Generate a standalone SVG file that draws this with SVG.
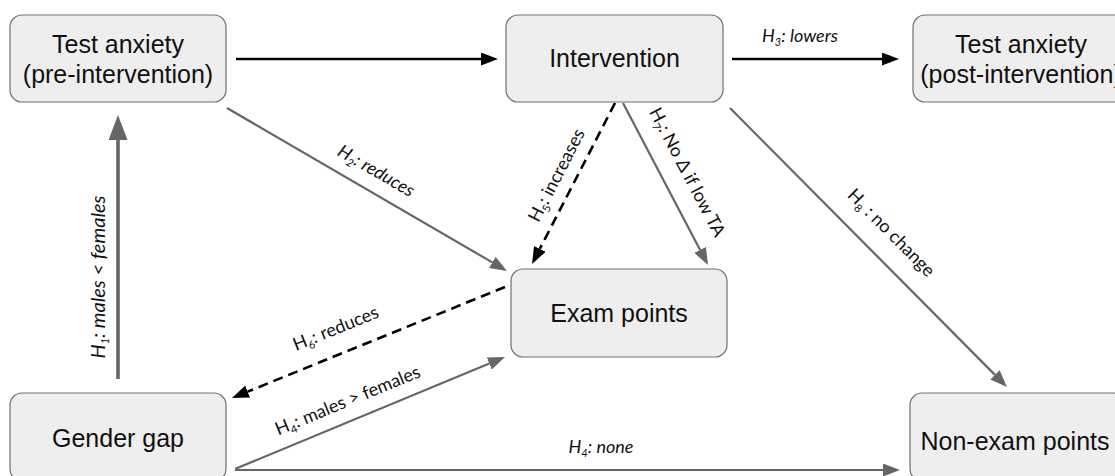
<svg xmlns="http://www.w3.org/2000/svg" width="1115" height="476" viewBox="0 0 1115 476">
  <style>
    .box { fill: #eeeeee; stroke: #707070; stroke-width: 1.2; }
    .nt { font-family: "Liberation Sans", Arial, sans-serif; font-size: 25px; fill: #111; text-anchor: middle; }
    .lb { font-family: Lato, "Open Sans", sans-serif; font-size: 18px; fill: #111; text-anchor: middle; }
    .it { font-style: italic; }
    .big { font-size: 20px; }
    .sub { font-size: 11px; }
    .blk { stroke: #000; stroke-width: 2.6; fill: none; }
    .gry { stroke: #666; stroke-width: 2.2; fill: none; }
    .dash { stroke: #000; stroke-width: 2.6; fill: none; stroke-dasharray: 10 6; }
  </style>
  <defs>
    <marker id="ahb" markerUnits="userSpaceOnUse" markerWidth="17" markerHeight="13" refX="0" refY="6.5" orient="auto">
      <path d="M0,0 L17,6.5 L0,13 z" fill="#000"/>
    </marker>
    <marker id="ahg" markerUnits="userSpaceOnUse" markerWidth="17" markerHeight="13" refX="0" refY="6.5" orient="auto">
      <path d="M0,0 L17,6.5 L0,13 z" fill="#666"/>
    </marker>
    <marker id="ahgb" markerUnits="userSpaceOnUse" markerWidth="25" markerHeight="19" refX="0" refY="9.5" orient="auto">
      <path d="M0,0 L25,9.5 L0,19 z" fill="#666"/>
    </marker>
  </defs>

  <g id="connectors">
    <!-- pre -> intervention -->
    <line class="blk" x1="236" y1="59" x2="481" y2="59" marker-end="url(#ahb)"/>
    <!-- H3 intervention -> post -->
    <line class="blk" x1="732" y1="59" x2="882" y2="59" marker-end="url(#ahb)"/>
    <text class="lb it" x="800" y="42">H<tspan class="sub" dy="4">3</tspan><tspan dy="-4">: lowers</tspan></text>
    <!-- H2 pre -> exam -->
    <line class="gry" x1="227" y1="108" x2="492.3" y2="262.4" marker-end="url(#ahg)"/>
    <text class="lb it" transform="translate(373,176) rotate(30)">H<tspan class="sub" dy="4">2</tspan><tspan dy="-4">: reduces</tspan></text>
    <!-- H1 gender gap -> pre -->
    <line x1="118" y1="379" x2="118" y2="140" stroke="#666" stroke-width="3.6" marker-end="url(#ahgb)"/>
    <text class="lb it big" transform="translate(105,277) rotate(-90)">H<tspan class="sub" dy="4">1</tspan><tspan dy="-4">: males &lt; females</tspan></text>
    <!-- H5 intervention -> exam dashed -->
    <line class="dash" x1="615" y1="103" x2="539.8" y2="248.9" marker-end="url(#ahb)"/>
    <text class="lb" transform="translate(562,178) rotate(-62.7)">H<tspan class="sub" dy="4">5</tspan><tspan dy="-4">: increases</tspan></text>
    <!-- H7 intervention -> exam -->
    <line class="gry" x1="623" y1="103" x2="700.1" y2="249.9" marker-end="url(#ahg)"/>
    <text class="lb" transform="translate(682,175) rotate(62.3)">H<tspan class="sub" dy="4">7</tspan><tspan dy="-4">: No Δ if low TA</tspan></text>
    <!-- H8 intervention -> non-exam -->
    <line class="gry" x1="730" y1="108" x2="995" y2="374.9" marker-end="url(#ahg)"/>
    <text class="lb" transform="translate(887,237) rotate(45.3)">H<tspan class="sub" dy="4">8</tspan><tspan dy="-4"> : no change</tspan></text>
    <!-- H6 exam -> gender gap dashed -->
    <line class="dash" x1="505" y1="287" x2="247.7" y2="391.6" marker-end="url(#ahb)"/>
    <text class="lb" transform="translate(338,334) rotate(-22.1)">H<tspan class="sub" dy="4">6</tspan><tspan dy="-4">: reduces</tspan></text>
    <!-- H4 gender gap -> exam -->
    <line class="gry" x1="235" y1="469" x2="489.3" y2="363.5" marker-end="url(#ahg)"/>
    <text class="lb" transform="translate(350,406) rotate(-22.4)">H<tspan class="sub" dy="4">4</tspan><tspan dy="-4">: males &gt; females</tspan></text>
    <!-- H4 gender gap -> non-exam -->
    <line class="gry" x1="235" y1="470" x2="883" y2="470" marker-end="url(#ahg)"/>
    <text class="lb it" x="601" y="453">H<tspan class="sub" dy="4">4</tspan><tspan dy="-4">: none</tspan></text>
  </g>

  <g id="node-pre">
    <rect class="box" x="10" y="15" width="216" height="87" rx="12"/>
    <text class="nt" x="118" y="53">Test anxiety</text>
    <text class="nt" x="118" y="83">(pre-intervention)</text>
  </g>
  <g id="node-intervention">
    <rect class="box" x="506" y="15" width="217" height="87" rx="12"/>
    <text class="nt" x="614.5" y="67">Intervention</text>
  </g>
  <g id="node-post">
    <rect class="box" x="913" y="15" width="216" height="87" rx="12"/>
    <text class="nt" x="1021" y="53">Test anxiety</text>
    <text class="nt" x="1021" y="83">(post-intervention)</text>
  </g>
  <g id="node-exam">
    <rect class="box" x="511" y="269" width="216" height="88" rx="12"/>
    <text class="nt" x="619" y="322">Exam points</text>
  </g>
  <g id="node-gender">
    <rect class="box" x="10" y="393" width="216" height="88" rx="12"/>
    <text class="nt" x="118" y="447">Gender gap</text>
  </g>
  <g id="node-nonexam">
    <rect class="box" x="910" y="393" width="216" height="88" rx="12"/>
    <text class="nt" x="1015" y="450">Non-exam points</text>
  </g>
</svg>
